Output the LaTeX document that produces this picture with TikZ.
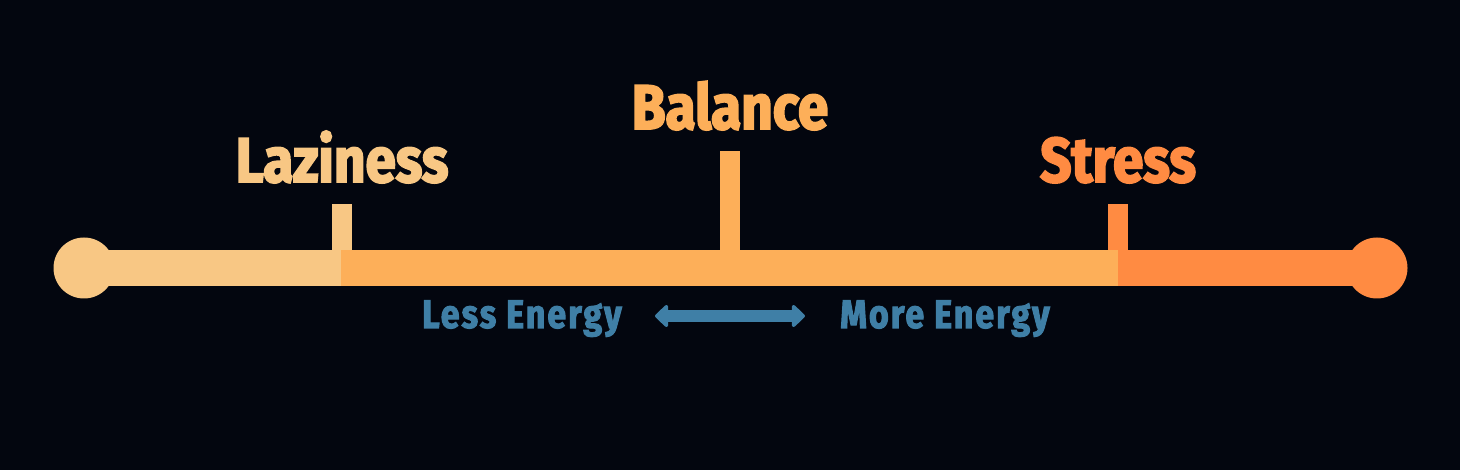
\documentclass[tikz,border=0pt]{standalone}
\usepackage{fontspec}
\usetikzlibrary{arrows.meta}
\newfontfamily\headfont[FakeStretch=0.87, FakeBold=3]{Fira Sans}
\newfontfamily\subfont[FakeStretch=0.85, FakeBold=2.5, LetterSpace=5]{Fira Sans}
\definecolor{bgdark}{HTML}{03060F}
\definecolor{lazycol}{HTML}{F8C784}
\definecolor{balcol}{HTML}{FDAF59}
\definecolor{stresscol}{HTML}{FF8B42}
\definecolor{energycol}{HTML}{3F7FA6}
\begin{document}
\begin{tikzpicture}[x=1pt, y=-1pt,
   label/.style={anchor=base, inner sep=0pt, font=\headfont\bfseries\fontsize{63}{63}\selectfont},
   energy/.style={anchor=base, inner sep=0pt, text=energycol, font=\subfont\bfseries\fontsize{40}{40}\selectfont}]%
   % one unit = one pixel of the 1460 x 470 picture, y downwards
   \fill[bgdark] (0,0) rectangle (1460,470);
   \useasboundingbox (0,0) rectangle (1460,470);

   % The bar, in three parts
   \fill[lazycol] (84,250) rectangle (342,286);
   \fill[balcol] (341,250) rectangle (1119,286);
   \fill[stresscol] (1118,250) rectangle (1377,286);
   \node[circle, fill=lazycol, minimum size=61pt, inner sep=0pt] (lo) at (84,268) {};
   \node[circle, fill=stresscol, minimum size=61pt, inner sep=0pt] (hi) at (1377,268) {};

   % Ticks
   \fill[lazycol] (332,204) rectangle (352,250);
   \fill[balcol] (720,151) rectangle (740,250);
   \fill[stresscol] (1108,204) rectangle (1128,250);

   % Labels
   \node[label, text=lazycol] (lazy) at (342,182) {Laziness};
   \node[label, text=balcol] (bal) at (730,129) {Balance};
   \node[label, text=stresscol] (stress) at (1118,182) {Stress};

   % Less / more energy
   \node[energy] (less) at (522,328) {Less Energy};
   \node[energy] (more) at (945,328) {More Energy};
   \coordinate (ae) at (655,316);
   \coordinate (be) at (805,316);
   \draw[energycol, line width=12pt,
     {Triangle[round, width=26pt, length=14pt]}-{Triangle[round, width=26pt, length=14pt]}]
     (ae) -- (be);
 \end{tikzpicture}
\end{document}
